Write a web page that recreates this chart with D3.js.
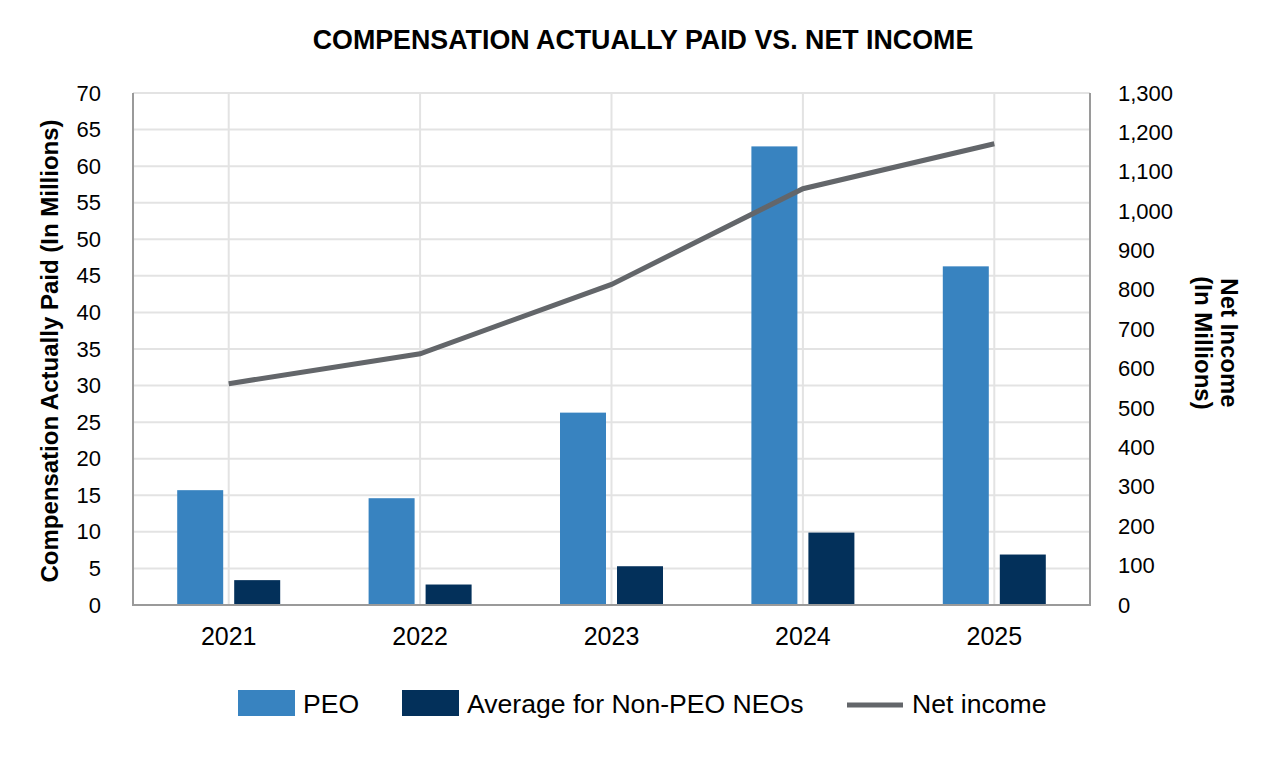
<!DOCTYPE html>
<html>
<head>
<meta charset="utf-8">
<script src="https://cdn.jsdelivr.net/npm/d3@7"></script>
<style>
  body { margin: 0; background: #fff; }
  text { font-family: "Liberation Sans", Arial, sans-serif; fill: #000; }
</style>
</head>
<body>
<svg id="chart" width="1286" height="760"></svg>
<script>
const years = ["2021", "2022", "2023", "2024", "2025"];
const peo = [15.7, 14.6, 26.3, 62.7, 46.3];
const nonPeo = [3.4, 2.8, 5.3, 9.9, 6.9];
const netIncome = [562, 638, 814, 1057, 1171];
const leftTicks = [0, 5, 10, 15, 20, 25, 30, 35, 40, 45, 50, 55, 60, 65, 70];
const rightTicks = [0, 100, 200, 300, 400, 500, 600, 700, 800, 900, 1000, 1100, 1200, 1300];
const seriesNames = ["PEO", "Average for Non-PEO NEOs", "Net income"];

const colors = { peo: "#3883c0", neo: "#03305a", line: "#63666a" };
const FONT = "Liberation Sans, Arial, sans-serif";

const svg = d3.select("#chart");
const m = { left: 133, right: 1090, top: 93, bottom: 605 };

const x = d3.scaleBand().domain(years).range([m.left, m.right]).padding(0);
const yL = d3.scaleLinear().domain([0, 70]).range([m.bottom, m.top]);
const yR = d3.scaleLinear().domain([0, 1300]).range([m.bottom, m.top]);

// gridlines
svg.append("g").selectAll("line").data(leftTicks).join("line")
  .attr("x1", m.left).attr("x2", m.right)
  .attr("y1", d => yL(d)).attr("y2", d => yL(d))
  .attr("stroke", "#e3e3e3").attr("stroke-width", 2);
svg.append("g").selectAll("line").data(years).join("line")
  .attr("x1", d => x(d) + x.bandwidth() / 2).attr("x2", d => x(d) + x.bandwidth() / 2)
  .attr("y1", m.top).attr("y2", m.bottom)
  .attr("stroke", "#e3e3e3").attr("stroke-width", 2);

// bars
const barW = 46, gap = 11;
const g = svg.append("g");
g.selectAll("rect.peo").data(years).join("rect").attr("class", "peo")
  .attr("x", (d) => x(d) + x.bandwidth() / 2 - gap / 2 - barW)
  .attr("width", barW)
  .attr("y", (d, i) => yL(peo[i]))
  .attr("height", (d, i) => yL(0) - yL(peo[i]))
  .attr("fill", colors.peo);
g.selectAll("rect.neo").data(years).join("rect").attr("class", "neo")
  .attr("x", (d) => x(d) + x.bandwidth() / 2 + gap / 2)
  .attr("width", barW)
  .attr("y", (d, i) => yL(nonPeo[i]))
  .attr("height", (d, i) => yL(0) - yL(nonPeo[i]))
  .attr("fill", colors.neo);

// axis lines
svg.append("line").attr("x1", m.left).attr("x2", m.left).attr("y1", m.top).attr("y2", m.bottom + 1)
  .attr("stroke", "#9a9a9a").attr("stroke-width", 2);
svg.append("line").attr("x1", m.right).attr("x2", m.right).attr("y1", m.top).attr("y2", m.bottom + 1)
  .attr("stroke", "#9a9a9a").attr("stroke-width", 2);
svg.append("line").attr("x1", m.left).attr("x2", m.right).attr("y1", m.bottom).attr("y2", m.bottom)
  .attr("stroke", "#9a9a9a").attr("stroke-width", 2);

// line
const line = d3.line().x((d, i) => x(years[i]) + x.bandwidth() / 2).y(d => yR(d));
svg.append("path").datum(netIncome).attr("d", line)
  .attr("fill", "none").attr("stroke", colors.line).attr("stroke-width", 5);

// axes
const leftAxis = d3.axisLeft(yL).tickValues(leftTicks).tickSize(0).tickPadding(32);
const la = svg.append("g").attr("transform", `translate(${m.left},0)`).call(leftAxis);
la.select(".domain").remove();
la.selectAll("text").style("font-size", "22px").style("font-family", FONT).attr("fill", "#000");

const rightAxis = d3.axisRight(yR).tickValues(rightTicks).tickSize(0).tickPadding(28).tickFormat(d3.format(","));
const ra = svg.append("g").attr("transform", `translate(${m.right},0)`).call(rightAxis);
ra.select(".domain").remove();
ra.selectAll("text").style("font-size", "22px").style("font-family", FONT).attr("fill", "#000");

const bottomAxis = d3.axisBottom(x).tickSize(0).tickPadding(22);
const ba = svg.append("g").attr("transform", `translate(0,${m.bottom})`).call(bottomAxis);
ba.select(".domain").remove();
ba.selectAll("text").style("font-size", "25px").style("font-family", FONT).attr("fill", "#000");

// title
svg.append("text").attr("x", 643).attr("y", 49).attr("text-anchor", "middle")
  .style("font-size", "26.8px").style("font-weight", "bold")
  .text("COMPENSATION ACTUALLY PAID VS. NET INCOME");

// left axis title
svg.append("text").attr("transform", "translate(58,351) rotate(-90)").attr("text-anchor", "middle")
  .style("font-size", "24px").style("font-weight", "bold")
  .text("Compensation Actually Paid (In Millions)");

// right axis title
const rt = svg.append("text").attr("transform", "translate(1221,343) rotate(90)").attr("text-anchor", "middle")
  .style("font-size", "24px").style("font-weight", "bold");
rt.append("tspan").attr("x", 0).attr("dy", 0).text("Net Income");
rt.append("tspan").attr("x", 0).attr("dy", 26).text("(In Millions)");

// legend
const lg = svg.append("g");
lg.append("rect").attr("x", 238).attr("y", 690).attr("width", 57).attr("height", 26).attr("fill", colors.peo);
lg.append("text").attr("x", 303).attr("y", 713).style("font-size", "26.6px").text(seriesNames[0]);
lg.append("rect").attr("x", 402).attr("y", 690).attr("width", 57).attr("height", 26).attr("fill", colors.neo);
lg.append("text").attr("x", 467).attr("y", 713).style("font-size", "26.6px").text(seriesNames[1]);
lg.append("line").attr("x1", 847).attr("x2", 903).attr("y1", 705).attr("y2", 705)
  .attr("stroke", colors.line).attr("stroke-width", 5);
lg.append("text").attr("x", 912).attr("y", 713).style("font-size", "26.6px").text(seriesNames[2]);
</script>
</body>
</html>
